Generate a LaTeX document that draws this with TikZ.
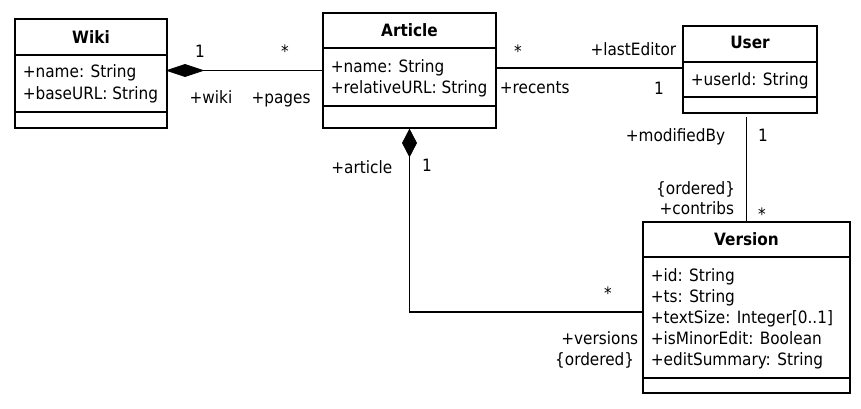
\documentclass[tikz,border=0pt]{standalone}
\usepackage{fontspec}
\setmainfont{DejaVu Sans Condensed}
\begin{document}
\begin{tikzpicture}[x=1pt,y=-1pt,line width=1.7pt,
  cls/.style={draw,rectangle,inner sep=0pt,outer sep=0pt,anchor=north west},
  ttl/.style={anchor=base,inner sep=0pt,font=\fontsize{17}{20}\selectfont\bfseries},
  attr/.style={anchor=base west,inner sep=0pt,font=\fontsize{17}{20}\selectfont},
  lbl/.style={anchor=base,inner sep=0pt,font=\fontsize{17}{20}\selectfont},
  lblr/.style={lbl,anchor=base east},
  lbll/.style={lbl,anchor=base west},
  comp/.style={fill=black,draw=black,line width=0.8pt}]
\useasboundingbox (0,0) rectangle (861,409);
\fill[white] (0,0) rectangle (861,409);
% classes
\node[cls,minimum width=152pt,minimum height=109pt] (wiki) at (15,19) {};
\draw (15,55) -- (167,55);
\draw (15,112) -- (167,112);
\node[ttl] (wikit) at (91,44) {Wiki};
\node[attr] (wikia1) at (22,78) {+name: String};
\node[attr] (wikia2) at (22,100) {+baseURL: String};

\node[cls,minimum width=173pt,minimum height=115pt] (article) at (323,13) {};
\draw (323,48) -- (496,48);
\draw (323,106) -- (496,106);
\node[ttl] (articlet) at (409.5,37) {Article};
\node[attr] (articlea1) at (330,73) {+name: String};
\node[attr] (articlea2) at (330,94) {+relativeURL: String};

\node[cls,minimum width=134pt,minimum height=87pt] (user) at (683,26) {};
\draw (683,62) -- (817,62);
\draw (683,97) -- (817,97);
\node[ttl] (usert) at (750,49) {User};
\node[attr] (usera1) at (690,86) {+userId: String};

\node[cls,minimum width=207pt,minimum height=171pt] (version) at (643,222) {};
\draw (643,257) -- (850,257);
\draw (643,378) -- (850,378);
\node[ttl] (versiont) at (746.5,245) {Version};
\node[attr] (versiona1) at (650,281) {+id: String};
\node[attr] (versiona2) at (650,302) {+ts: String};
\node[attr] (versiona3) at (650,323) {+textSize: Integer[0..1]};
\node[attr] (versiona4) at (650,344) {+isMinorEdit: Boolean};
\node[attr] (versiona5) at (650,365) {+editSummary: String};

% Wiki -- Article (composition)
\coordinate (wa) at (wiki.east |- article.west);
\draw (wa) -- (article.west);
\filldraw[comp] (wa) -- ++(18,-6) -- ++(18,6) -- ++(-18,6) -- cycle;
\node[lbl] (l1) at (200,58) {1};
\node[lbl] (l2) at (285,58) {*};
\node[lbl] (l3) at (211,104) {+wiki};
\node[lbl] (l4) at (281,104) {+pages};

% Article -- User
\draw ([yshift=1.5pt]article.east |- user.west) -- ([yshift=1.5pt]user.west);
\node[lbl] (l5) at (518,58) {*};
\node[lblr] (l6) at (677,56) {+lastEditor};
\node[lbll] (l7) at (499,94) {+recents};
\node[lbl] (l8) at (659,95) {1};

% Article -- Version (composition)
\draw (article.south) |- ([yshift=-4.5pt]version.west);
\filldraw[comp] ([yshift=-1.5pt]article.south) -- ++(7,13.5) -- ++(-7,13.5) -- ++(-7,-13.5) -- cycle;
\node[lblr] (l9) at (393,173) {+article};
\node[lbl] (l10) at (427,171) {1};
\node[lbl] (l11) at (608,299) {*};
\node[lblr] (l12) at (639,344) {+versions};
\node[lblr] (l13) at (635,365) {\{ordered\}};

% User -- Version
\coordinate (ub) at (version.north |- user.south);
\draw ([yshift=-4pt]ub) -- (version.north);
\node[lblr] (l14) at (726,141) {+modifiedBy};
\node[lbl] (l15) at (763,141) {1};
\node[lblr] (l16) at (736,194) {\{ordered\}};
\node[lblr] (l17) at (735,214) {+contribs};
\node[lbl] (l18) at (762,220) {*};
\end{tikzpicture}
\end{document}
